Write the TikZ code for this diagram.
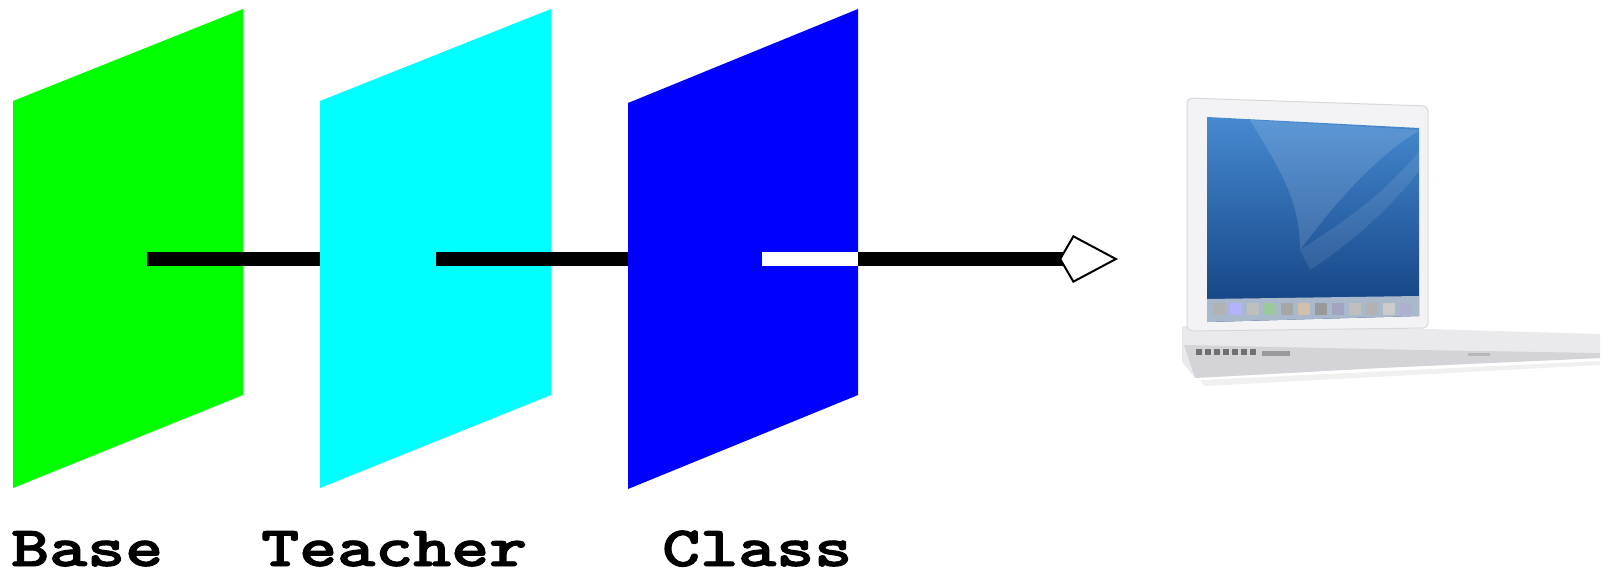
\documentclass[tikz,border=0pt]{standalone}
\usepackage{fontspec}
\newfontfamily\labfont{lmmonolt10-bold}[Extension=.otf, FakeBold=1.6]
\usetikzlibrary{arrows.meta}
\definecolor{pgreen}{RGB}{0,255,0}
\definecolor{pcyan}{RGB}{0,255,255}
\definecolor{pblue}{RGB}{0,0,255}
\definecolor{bezel}{RGB}{243,243,246}
\definecolor{bezeledge}{RGB}{214,216,222}
\definecolor{sctop}{RGB}{72,140,212}
\definecolor{scmid}{RGB}{48,112,190}
\definecolor{scbot}{RGB}{16,62,126}
\definecolor{dockc}{RGB}{170,184,204}
\definecolor{basec}{RGB}{234,234,237}
\definecolor{frontc}{RGB}{212,212,216}
\definecolor{portc}{RGB}{110,110,115}
\tikzset{
  panel/.style={draw=none},
  link/.style={line width=14pt, draw=black},
  whitelink/.style={line width=14pt, draw=white},
  lab/.style={anchor=base west, inner sep=0pt, text depth=0pt, font=\labfont\fontsize{57}{57}\selectfont},
}
\begin{document}
\begin{tikzpicture}[x=1pt,y=-1pt]
\useasboundingbox (0,0) rectangle (1602,571);

% link end points
\coordinate (gS) at (147,259);
\coordinate (cL) at (320,259);
\coordinate (cS) at (436,259);
\coordinate (bL) at (628,259);
\coordinate (bS) at (762,259);
\coordinate (bR) at (858,259);
\coordinate (tip) at (1118,259);

% Base panel + link to Teacher
\fill[panel, pgreen] (13,101) -- (243,9) -- (243,395) -- (13,488) -- cycle;
\draw[link] (gS) -- (cL);
% Teacher panel + link to Class
\fill[panel, pcyan] (320,101) -- (551,9) -- (551,395) -- (320,488) -- cycle;
\draw[link] (cS) -- (bL);
% Class panel + outgoing link
\fill[panel, pblue] (628,103) -- (858,9) -- (858,395) -- (628,489) -- cycle;
\draw[whitelink] (bS) -- (bR);
\draw[link, -{Kite[open, fill=white, length=59pt, width=48pt, inset=14pt, line width=2pt]}] (bR) -- (tip);

% labels
\node[lab] (base) at (11,566) {\scalebox{1.27}[1]{Base}};
\node[lab] (teacher) at (261,566) {\scalebox{1.27}[1]{Teacher}};
\node[lab] (class) at (662,566) {\scalebox{1.27}[1]{Class}};

% laptop: base
\fill[basec] (1182,326) -- (1428,329) -- (1600,334) -- (1600,358) -- (1380,368) -- (1195,378) -- (1182,362) -- cycle;
\fill[frontc] (1184,345) -- (1420,350) -- (1600,353) -- (1600,358) -- (1380,368) -- (1195,378) -- cycle;
\foreach \i in {0,...,6} {\fill[portc] (1196+\i*9,349) rectangle ++(6,6);}
\fill[portc!70] (1262,351) rectangle (1290,356);
\fill[portc!50] (1468,353) rectangle (1490,356);
\fill[gray!12] (1200,380) -- (1600,361) -- (1600,365) -- (1205,386) -- cycle;
% lid
\fill[bezel, draw=bezeledge, line width=1pt, rounded corners=5pt] (1187,98) -- (1428,106) -- (1428,328) -- (1187,331) -- cycle;
\begin{scope}
  \clip (1207,117) -- (1419,128) -- (1419,316) -- (1207,322) -- cycle;
  \shade[top color=sctop, middle color=scmid, bottom color=scbot] (1200,110) rectangle (1425,325);
  \fill[white, opacity=0.13] (1250,120) .. controls (1280,170) and (1300,200) .. (1300,250) .. controls (1330,210) and (1370,160) .. (1420,130) -- cycle;
  \fill[white, opacity=0.09] (1300,250) .. controls (1330,230) and (1380,200) .. (1420,150) -- (1420,170) .. controls (1380,220) and (1340,250) .. (1310,270) -- cycle;
  \fill[dockc] (1207,299) -- (1419,296) -- (1419,330) -- (1207,330) -- cycle;
  \foreach \i/\c in {0/gray!60,1/blue!30,2/gray!50,3/green!30!gray!60,4/gray!70,5/orange!30!gray!50,6/gray!80,7/blue!20!gray!60,8/gray!50,9/gray!60,10/gray!40,11/blue!25!gray!50}
    {\fill[\c] (1213+\i*17,303) rectangle ++(12,12);}
\end{scope}
\end{tikzpicture}
\end{document}
